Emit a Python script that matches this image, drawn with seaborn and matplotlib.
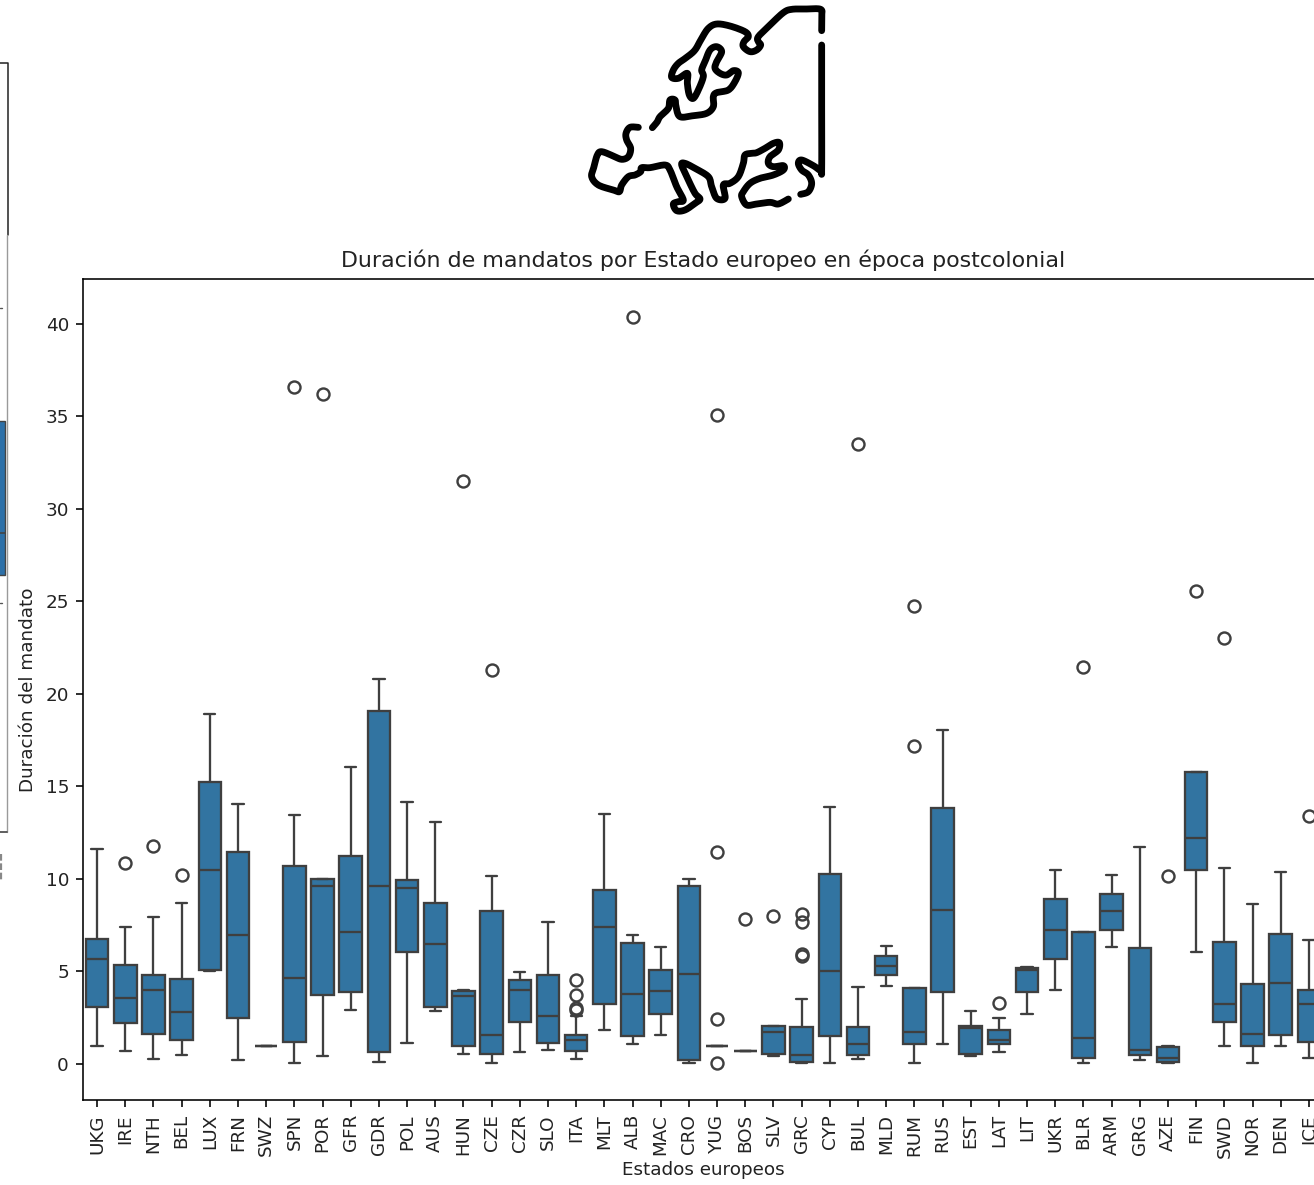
import numpy as np
import pandas as pd
import matplotlib
matplotlib.use("Agg")
import matplotlib.pyplot as plt
from matplotlib.lines import Line2D
from matplotlib.patches import Rectangle
from matplotlib.transforms import Affine2D
import seaborn as sns

W, H = 1314, 1185

states = ["UKG","IRE","NTH","BEL","LUX","FRN","SWZ","SPN","POR","GFR","GDR","POL","AUS","HUN","CZE","CZR","SLO","ITA","MLT","ALB","MAC","CRO","YUG","BOS","SLV","GRC","CYP","BUL","MLD","RUM","RUS","EST","LAT","LIT","UKR","BLR","ARM","GRG","AZE","FIN","SWD","NOR","DEN","ICE"]
whisker_low = [0.99,0.70,0.29,0.49,5.04,0.20,0.99,0.05,0.42,2.94,0.13,1.14,2.86,0.56,0.05,0.63,0.77,0.29,1.86,1.06,1.57,0.05,0.99,0.70,0.42,0.05,0.05,0.29,4.23,0.05,1.06,0.42,0.63,2.72,4.02,0.05,6.32,0.20,0.05,6.04,0.99,0.05,0.99,0.34]
q1 = [3.08,2.22,1.64,1.28,5.10,2.50,0.99,1.20,3.73,3.87,0.63,6.04,3.08,0.99,0.56,2.29,1.14,0.72,3.22,1.50,2.72,0.20,0.99,0.70,0.56,0.13,1.50,0.49,4.81,1.06,3.87,0.56,1.06,3.87,5.68,0.34,7.26,0.49,0.13,10.50,2.29,0.99,1.57,1.20]
median = [5.67,3.59,4.02,2.79,10.50,6.97,0.99,4.67,9.64,7.12,9.64,9.49,6.47,3.66,1.57,4.02,2.58,1.28,7.42,3.80,3.95,4.88,0.99,0.70,1.71,0.49,5.03,1.06,5.31,1.71,8.34,1.93,1.28,5.06,7.26,1.42,8.27,0.77,0.34,12.23,3.22,1.64,4.38,3.22]
q3 = [6.75,5.33,4.81,4.59,15.26,11.46,0.99,10.72,10.00,11.23,19.08,9.95,8.70,3.95,8.27,4.52,4.81,1.58,9.42,6.54,5.10,9.64,0.99,0.70,2.07,2.00,10.29,2.00,5.82,4.09,13.82,2.07,1.85,5.17,8.92,7.12,9.20,6.25,0.92,15.78,6.61,4.31,7.04,4.02]
whisker_high = [11.60,7.42,7.93,8.72,18.90,14.05,0.99,13.48,10.00,16.05,20.80,14.18,13.10,4.02,10.15,4.95,7.69,2.60,13.53,6.97,6.32,10.00,0.99,0.70,2.07,3.51,13.89,4.16,6.40,4.09,18.05,2.86,2.50,5.24,10.50,7.12,10.20,11.73,0.99,15.78,10.58,8.63,10.36,6.69]
outliers = {
    "IRE": [10.86], "NTH": [11.80], "BEL": [10.20], "SPN": [36.60], "POR": [36.20],
    "HUN": [31.50], "CZE": [21.30], "ITA": [2.90, 3.00, 3.73, 4.52], "ALB": [40.40],
    "YUG": [0.05, 2.43, 11.44, 35.10], "BOS": [7.84], "SLV": [7.98],
    "GRC": [5.85, 5.96, 7.69, 8.12], "BUL": [33.50], "RUM": [17.20, 24.75],
    "LAT": [3.30], "BLR": [21.45], "AZE": [10.15], "FIN": [25.55], "SWD": [23.00],
    "ICE": [13.40],
}
tick_values = [0, 5, 10, 15, 20, 25, 30, 35, 40]


def observations(lo, a, b, c, hi, extra):
    """Expand a read five-number summary into a sample with those exact quartiles."""
    low = sorted(v for v in extra if v < a)
    high = sorted(v for v in extra if v >= a)
    m = max(len(low), len(high)) + 1
    part1 = low + [lo] + [a] * (m - len(low))
    part2 = [a] * (m - 1) + [b]
    part3 = [c] * m
    part4 = [c] * (m - len(high) - 1) + [hi] + high
    return part1 + part2 + part3 + part4


rows = []
for i, s in enumerate(states):
    for v in observations(whisker_low[i], q1[i], median[i], q3[i], whisker_high[i], outliers.get(s, [])):
        rows.append({"state": s, "duration": v})
df = pd.DataFrame(rows)

SCALE = 1.44
FONT = 1.325
sns.set_theme(style="ticks", rc={
    "axes.linewidth": 0.8 * SCALE, "xtick.major.width": 0.8 * SCALE, "ytick.major.width": 0.8 * SCALE,
    "xtick.major.size": 3.5 * SCALE, "ytick.major.size": 3.5 * SCALE,
    "xtick.major.pad": 3.5 * SCALE, "ytick.major.pad": 3.5 * SCALE,
    "axes.spines.right": True, "axes.spines.top": True,
    "axes.edgecolor": "black",
    "text.color": "#222222", "axes.labelcolor": "#222222",
    "xtick.color": "black", "ytick.color": "black",
    "xtick.labelcolor": "#222222", "ytick.labelcolor": "#222222",
})
plt.rcParams["font.family"] = ["DejaVu Sans"]

fig = plt.figure(figsize=(W / 100, H / 100), dpi=100)
left, right, top, bottom = 83, 1323, 279, 1100
ax = fig.add_axes([left / W, 1 - bottom / H, (right - left) / W, (bottom - top) / H])
sns.boxplot(data=df, x="state", y="duration", order=states, ax=ax, color="#1f77b4",
            linewidth=1.15 * SCALE, fliersize=6 * SCALE, flierprops={"markeredgewidth": 1.2 * SCALE})
ax.set_xlim(-0.5, len(states) - 0.5)
ax.set_ylim(-1.95, 42.43)
ax.set_yticks(tick_values)
ax.tick_params(axis="x", labelrotation=90, labelsize=10 * FONT)
ax.tick_params(axis="y", labelsize=10 * FONT)
ax.set_xlabel("Estados europeos", fontsize=10 * FONT, labelpad=2.5)
ax.set_ylabel("Duración del mandato", fontsize=10 * FONT, labelpad=6)
ax.set_title("Duración de mandatos por Estado europeo en época postcolonial", fontsize=12 * FONT, pad=6 * SCALE)

# Everything below is decoration, placed in reference pixels (y down).
px = Affine2D().scale(1, -1).translate(0, H)


def smooth(points, n=10):
    p = np.array(points, dtype=float)
    p = np.vstack([p[0], p, p[-1]])
    t = np.linspace(0, 1, n, endpoint=False)[:, None]
    out = []
    for i in range(1, len(p) - 2):
        a, b, c, d = p[i - 1], p[i], p[i + 1], p[i + 2]
        out.append(0.5 * (2 * b + (c - a) * t + (2 * a - 5 * b + 4 * c - d) * t ** 2 + (3 * b - a - 3 * c + d) * t ** 3))
    out.append(p[-2][None, :])
    return np.vstack(out)


north = [(755,92),(755,50),(752,28),(710,27),(665,28),(640,38),(600,75),(565,110),(565,125),(572,135),(560,150),(540,155),(520,140),(522,125),(535,110),(525,95),(480,78),(440,72),(415,85),(395,115),(375,150),(350,172),(325,190),(310,210),(305,232),(325,235),(352,220),(352,250),(358,285),(370,295),(385,270),(400,230),(395,210),(405,185),(420,150),(440,140),(455,155),(440,185),(435,205),(450,220),(470,225),(490,212),(505,218),(495,245),(475,270),(440,278),(430,290),(430,320),(410,340),(370,347),(330,350),(318,320),(315,300),(300,300),(295,325),(270,350),(262,365),(247,383)]
south = [(205,382),(180,382),(168,400),(170,420),(182,445),(175,470),(155,478),(130,468),(95,455),(82,465),(72,500),(65,530),(85,555),(130,570),(148,575),(155,555),(175,530),(195,525),(212,515),(215,503),(240,503),(285,495),(300,510),(320,560),(340,600),(325,605),(310,612),(320,632),(345,630),(375,610),(390,597),(375,580),(355,540),(335,495),(345,490),(375,505),(415,530),(425,560),(440,595),(465,595),(460,555),(480,550),(505,530),(520,490),(525,465),(545,460),(560,458),(585,445),(610,430),(628,428),(625,450),(600,470),(595,490),(610,500),(640,497),(640,510),(610,525),(570,535),(540,550),(520,575),(515,590),(530,615),(560,612),(600,607),(625,612),(655,597)]
east = [(755,135),(755,300),(755,505),(752,512),(730,497),(695,480),(685,490),(695,510),(715,525),(725,550),(715,575),(692,583)]
for trace in (north, south, east):
    xy = smooth(trace)
    fig.add_artist(Line2D(570 + xy[:, 0] / 3, xy[:, 1] / 3, transform=px, color="black", lw=4.9,
                          solid_capstyle="round", solid_joinstyle="round"))

# Sliver of a neighbouring panel cut off by the left edge of the picture.
fig.add_artist(Line2D([0, 8, 8], [63, 63, 235], transform=px, color="#222222", lw=1.1))
fig.add_artist(Line2D([6.5, 6.5], [235, 832], transform=px, color="#9a9a9a", lw=1.0))
fig.add_artist(Line2D([0, 6.5], [832, 832], transform=px, color="#333333", lw=1.1))
fig.add_artist(Rectangle((-5, 421), 10, 154, transform=px, facecolor="#2d70a8", edgecolor="#444444", lw=1.0))
fig.add_artist(Line2D([0, 5], [533, 533], transform=px, color="#444444", lw=1.2))
for tick_y in (308, 603):
    fig.add_artist(Line2D([0, 1.5], [tick_y, tick_y], transform=px, color="#555555", lw=1.0))
fig.add_artist(Line2D([0.5, 0.5], [854, 880], transform=px, color="#888888", lw=1.6, ls=(0, (3, 1.2))))

fig.savefig("out.png", dpi=100)
